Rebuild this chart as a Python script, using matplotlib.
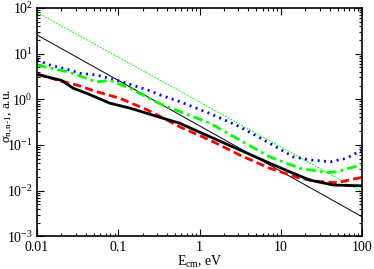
import numpy as np
import matplotlib
matplotlib.use("Agg")
import matplotlib.pyplot as plt
from matplotlib.ticker import LogLocator, NullFormatter, FixedLocator, FixedFormatter

plt.rcParams['font.family'] = ['Liberation Serif', 'DejaVu Serif']
plt.rcParams['mathtext.fontset'] = 'custom'
plt.rcParams['mathtext.rm'] = 'Liberation Serif'
plt.rcParams['mathtext.it'] = 'Liberation Serif:italic'

# data
E_black = [0.01, 0.02, 0.028, 0.041, 0.079, 0.14, 0.33, 0.57, 1.34, 3.14, 7.3, 14.3, 23, 44.5, 100]
s_black = [3.5, 2.6, 1.74, 1.35, 0.82, 0.64, 0.40, 0.30, 0.152, 0.078, 0.040, 0.024, 0.017, 0.0133, 0.0128]

E_red = [0.01, 0.019, 0.031, 0.054, 0.105, 0.23, 0.33, 0.57, 1.34, 3.14, 7.3, 17.2, 30, 49, 100]
s_red = [3.6, 2.55, 2.05, 1.47, 1.05, 0.58, 0.42, 0.25, 0.128, 0.060, 0.031, 0.0187, 0.0158, 0.015, 0.0196]

E_green = [0.01, 0.025, 0.054, 0.079, 0.139, 0.23, 0.33, 0.57, 1.34, 3.14, 7.3, 17.2, 37, 49, 100]
s_green = [5.6, 3.9, 2.4, 2.6, 1.74, 1.1, 0.79, 0.54, 0.30, 0.128, 0.055, 0.031, 0.0248, 0.026, 0.037]

E_blue = [0.01, 0.0145, 0.025, 0.034, 0.054, 0.105, 0.23, 0.33, 0.57, 1.34, 3.14, 7.3, 14.3, 23, 41, 64, 100]
s_blue = [7.2, 5.6, 4.4, 3.7, 3.4, 2.5, 1.6, 1.24, 0.89, 0.49, 0.25, 0.109, 0.055, 0.047, 0.043, 0.051, 0.078]

E_thin = [0.01, 100]
s_thin_black = [25.6, 0.0027]
s_thin_green = [80, 0.0095]

xticks = [0.01, 0.1, 1, 10, 100]
xticklabels = ["0.01", "0.1", "1", "10", "100"]
yticks = [1e-3, 1e-2, 1e-1, 1e0, 1e1, 1e2]
yticklabels = [r"$10^{-3}$", r"$10^{-2}$", r"$10^{-1}$", r"$10^{0}$", r"$10^{1}$", r"$10^{2}$"]

fig = plt.figure(figsize=(3.74, 2.69), dpi=100)
ax = fig.add_axes([37/374, 1-236.4/269, (362-37)/374, (236.4-7.9)/269])

ax.plot(E_thin, s_thin_green, color='#00ff00', lw=0.7, linestyle=(0, (2, 1.2)))
ax.plot(E_thin, s_thin_black, color='black', lw=0.7)
ax.plot(E_blue, s_blue, color='#0000ff', lw=2, linestyle=(0, (0.7, 1.6)))
ax.plot(E_green, s_green, color='#00ff00', lw=2, linestyle=(0, (3.5, 1.5, 1, 1.5)))
ax.plot(E_red, s_red, color='#ff0000', lw=2, linestyle=(0, (3, 1.5)))
ax.plot(E_black, s_black, color='black', lw=2)

ax.set_xscale('log')
ax.set_yscale('log')
ax.set_xlim(0.01, 100)
ax.set_ylim(1e-3, 1e2)

ax.xaxis.set_major_locator(FixedLocator(xticks))
ax.xaxis.set_major_formatter(FixedFormatter(xticklabels))
ax.yaxis.set_major_locator(FixedLocator(yticks))
ax.yaxis.set_major_formatter(FixedFormatter(yticklabels))
ax.xaxis.set_minor_locator(LogLocator(base=10, subs=np.arange(2, 10)))
ax.yaxis.set_minor_locator(LogLocator(base=10, subs=np.arange(2, 10)))
ax.xaxis.set_minor_formatter(NullFormatter())
ax.yaxis.set_minor_formatter(NullFormatter())

ax.tick_params(which='both', direction='in', top=True, right=True, labelsize=10, width=0.8)
ax.tick_params(which='major', length=5, pad=3)
ax.tick_params(which='minor', length=2.5)
for sp in ax.spines.values():
    sp.set_linewidth(1.2)

ax.set_xlabel(r"E$_{\mathrm{cm}}$, eV", fontsize=10, labelpad=0)
ax.set_ylabel(r"$\sigma_{\mathrm{n,n\text{-}1}}$, a.u.", fontsize=9.5)
ax.yaxis.label.set_va('center')
ax.yaxis.set_label_coords(-0.089, 0.53)

fig.savefig("out.png", dpi=100)
